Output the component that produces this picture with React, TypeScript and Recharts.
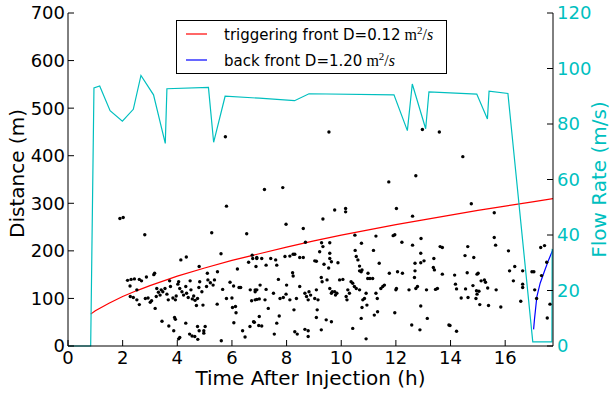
import { ComposedChart, Scatter, Line, XAxis, YAxis, Legend, Label } from 'recharts';

const FONT = '"DejaVu Sans", sans-serif';
const MATH = '"Liberation Serif", serif';
const CYAN = '#00bfbf';

// axis ticks
const timeTicks = [0, 2, 4, 6, 8, 10, 12, 14, 16];
const distTicks = [0, 100, 200, 300, 400, 500, 600, 700];
const flowTicks = [0, 20, 40, 60, 80, 100, 120];

// microseismic events: time (h) / distance (m)
const eventTime = [
  1.90, 2.02, 2.81, 5.80, 5.26, 6.54, 5.60, 4.33, 4.13, 4.80, 6.74, 6.91, 6.61, 6.20, 5.10, 5.47,
  2.18, 2.31, 2.43, 2.61, 2.69, 2.87, 3.14, 3.17, 2.27, 2.52, 2.28, 2.39, 2.52, 2.61, 2.83, 2.93,
  3.01, 3.06, 3.23, 3.25, 3.31, 3.37, 3.41, 3.47, 3.55, 3.62, 3.67, 3.19, 3.72, 3.75, 3.84, 3.93,
  3.96, 4.02, 4.05, 4.09, 4.17, 4.23, 4.31, 4.34, 4.40, 4.47, 4.50, 4.55, 4.60, 4.65, 4.70, 4.74,
  4.79, 4.82, 4.90, 4.94, 5.07, 5.12, 5.21, 5.31, 5.36, 5.46, 5.66, 5.80, 5.93, 6.00, 6.06, 6.02,
  6.13, 6.15, 6.26, 6.32, 6.07, 3.44, 3.69, 3.87, 3.90, 3.93, 4.09, 4.05, 4.31, 4.45, 4.54, 4.64,
  4.74, 4.80, 4.75, 5.02, 4.97, 4.97, 5.61, 6.39, 6.48, 6.66, 6.82, 6.98, 6.91, 6.85, 7.00, 6.72,
  7.00,
  7.98, 8.61, 9.33, 9.76, 10.16, 10.16, 12.02, 12.61, 8.69, 9.28, 9.58, 10.50, 11.27, 11.90, 11.96, 12.22,
  12.61, 12.92, 13.62, 10.74, 11.18, 10.51, 12.91, 13.39, 9.21, 9.33,
  6.76, 6.91, 7.09, 7.42, 7.60, 7.64, 7.94, 8.12, 8.24, 8.30, 8.48, 8.61, 9.03, 9.09, 9.58, 9.58,
  9.64, 9.37, 9.54, 7.25, 6.88, 9.88, 10.55, 10.61, 10.67, 10.76, 10.73, 11.39, 10.97, 10.98, 10.67, 11.76,
  12.06, 12.24, 12.70, 12.70, 12.91, 13.03, 13.37, 13.41,
  6.67, 6.85, 7.03, 7.25, 6.85, 6.91, 7.21, 7.52, 7.70, 7.88, 7.76, 8.00, 8.12, 7.98, 8.36, 8.24,
  8.22, 8.48, 8.67, 8.73, 8.79, 8.82, 8.88, 9.03, 9.09, 9.15, 9.12, 9.27, 9.30, 9.48, 9.58, 9.64,
  9.67, 9.76, 9.79, 9.84, 9.94, 10.06, 10.18, 10.21, 10.24, 10.30, 10.36, 10.42, 10.48, 10.55, 10.67, 10.79,
  10.85, 10.91, 11.05, 11.15, 11.27, 11.32, 11.45, 11.52, 11.58, 12.00, 12.02, 12.48, 12.73, 12.79, 12.68, 13.12,
  13.45, 13.52, 10.76, 10.94, 10.73, 11.21, 11.33, 11.96, 12.91, 13.15, 12.58, 12.88, 10.42, 10.91, 9.27, 9.64,
  9.45, 9.09, 8.67, 8.79, 8.79, 8.30, 8.39, 7.64, 7.73, 7.55, 7.33, 7.09, 6.79, 8.27, 13.94,
  13.70, 14.76, 15.60, 15.60, 15.65, 14.63, 14.53, 14.85, 16.12, 17.30, 17.44, 17.52, 14.15, 14.18, 14.22, 14.61,
  14.97, 15.01, 15.12, 15.24, 15.28, 15.36, 16.16, 16.35, 16.64, 16.30, 16.64, 16.64, 16.98, 17.05, 17.33, 17.08,
  17.15, 14.55, 14.82, 14.95, 14.97, 15.04, 15.07, 15.39, 15.67, 15.84, 14.39, 14.64, 14.93, 16.57, 17.64, 17.54,
  13.98, 14.22, 13.70,
  5.76, 9.55, 12.97, 13.59, 14.45, 7.19, 7.86, 11.74, 12.73,
];
const eventDist = [
  268, 270, 234, 294, 238, 236, 194, 187, 181, 167, 191, 184, 176, 162, 153, 156,
  138, 140, 141, 140, 137, 145, 150, 153, 126, 118, 104, 102, 97, 87, 100, 101,
  92, 95, 104, 121, 113, 107, 118, 114, 121, 109, 97, 79, 137, 125, 101, 97,
  105, 130, 135, 121, 114, 107, 125, 111, 102, 137, 118, 99, 105, 96, 85, 100,
  123, 135, 114, 86, 125, 139, 133, 128, 139, 88, 119, 100, 134, 101, 126, 81,
  83, 70, 123, 123, 49, 52, 42, 32, 60, 56, 18, 15, 48, 25, 21, 20,
  41, 32, 14, 41, 32, 27, 11, 32, 19, 41, 50, 43, 118, 114, 99, 95,
  62,
  256, 247, 267, 286, 289, 282, 289, 273, 218, 217, 217, 233, 231, 232, 234, 218,
  212, 226, 209, 216, 201, 201, 195, 184, 198, 209,
  184, 186, 184, 184, 181, 170, 188, 189, 193, 193, 186, 186, 179, 178, 195, 184,
  177, 172, 164, 170, 167, 175, 188, 181, 168, 160, 156, 174, 142, 153, 158, 153,
  156, 153, 158, 174, 175, 179, 165, 160,
  118, 118, 128, 119, 97, 98, 97, 111, 140, 102, 100, 128, 97, 109, 100, 147,
  154, 125, 111, 104, 97, 114, 107, 100, 118, 97, 76, 144, 135, 139, 121, 111,
  114, 114, 107, 111, 139, 140, 104, 97, 118, 111, 135, 132, 125, 121, 118, 97,
  100, 111, 142, 142, 111, 100, 121, 125, 128, 118, 121, 118, 121, 125, 144, 118,
  119, 121, 81, 86, 58, 65, 72, 70, 84, 58, 44, 34, 37, 15, 34, 51,
  55, 60, 35, 32, 20, 30, 25, 48, 63, 25, 79, 42, 51, 76, 44,
  207, 299, 280, 228, 212, 209, 190, 186, 200, 207, 211, 176, 149, 130, 120, 154,
  151, 153, 137, 139, 134, 122, 158, 167, 158, 137, 130, 123, 156, 156, 148, 118,
  100, 120, 127, 116, 109, 115, 87, 85, 118, 82, 101, 102, 100, 94, 88, 59,
  43, 31, 151,
  440, 450, 455, 450, 398, 329, 333, 345, 358,
];

// triggering front (D = 0.12 m^2/s)
const triggerTime = [0.83, 1, 1.5, 2, 2.5, 3, 4, 5, 6, 7, 8, 9, 10, 11, 12, 13, 14, 15, 16, 17, 17.75];
const triggerDist = [67, 74, 90, 104, 116, 127, 147, 164, 180, 194, 208, 221, 233, 244, 255, 265, 275, 285, 294, 303, 310];

// back front (D = 1.20 m^2/s)
const backTime = [17.04, 17.07, 17.16, 17.28, 17.43, 17.59, 17.75];
const backDist = [35, 55, 104, 132, 156, 181, 203];

// injection flow rate
const flowTime = [
  0, 0.83, 0.95, 1.16, 1.54, 1.99, 2.39, 2.67, 3.13, 3.56, 3.62, 5.14, 5.33, 5.75, 7.0,
  8.29, 8.82, 11.93, 12.42, 12.6, 13.09, 13.21, 14.96, 15.35, 15.41, 16.1, 17.01, 17.71, 17.72,
];
const flowRate = [
  0, 0, 93.0, 93.7, 84.8, 81.0, 85.3, 97.5, 90.5, 73.0, 92.7, 93.2, 73.4, 90.0, 89.3,
  88.4, 90.9, 90.5, 77.6, 94.4, 78.3, 91.6, 90.8, 81.8, 91.8, 91.0, 1.5, 1.5, 35,
];

const toPoints = (xs: number[], ys: number[]) => xs.map((x, i) => ({ x, y: ys[i] }));

const events = toPoints(eventTime, eventDist);
const trigger = toPoints(triggerTime, triggerDist);
const back = toPoints(backTime, backDist);
const flow = toPoints(flowTime, flowRate);

const EventDot = (p: any) => <circle cx={p.cx} cy={p.cy} r={1.7} fill="#000" />;

const MathUnit = () => (
  <>
    <tspan fontFamily={MATH} fontSize={16}> m</tspan>
    <tspan fontFamily={MATH} fontSize={11} dy={-6}>2</tspan>
    <tspan fontFamily={MATH} fontSize={16} dy={6}>/</tspan>
    <tspan fontFamily={MATH} fontSize={16} fontStyle="italic">s</tspan>
  </>
);

const LegendBox = () => (
  <svg width={272} height={55} style={{ display: 'block' }}>
    <rect x={0.5} y={0.5} width={270} height={53} fill="#fff" stroke="#000" />
    <line x1={10} x2={31} y1={14} y2={14} stroke="#ff0000" strokeWidth={1.2} />
    <line x1={10} x2={31} y1={40} y2={40} stroke="#0000ff" strokeWidth={1.2} />
    <text x={48} y={19.5} fontSize={15} fontFamily={FONT} fill="#000">
      triggering front D=0.12<MathUnit />
    </text>
    <text x={48} y={45.5} fontSize={15} fontFamily={FONT} fill="#000">
      back front D=1.20<MathUnit />
    </text>
  </svg>
);

const DistLabel = (p: any) => {
  const { x, y, height } = p.viewBox;
  const cx = x - 1;
  const cy = y + height / 2 - 6;
  return (
    <text x={cx} y={cy} transform={`rotate(-90 ${cx} ${cy})`} textAnchor="middle" dominantBaseline="central"
      fontSize={20} fontFamily={FONT} fill="#000">Distance (m)</text>
  );
};

const FlowLabel = (p: any) => {
  const { x, y, height } = p.viewBox;
  const cx = x + 46;
  const cy = y + height / 2;
  return (
    <text x={cx} y={cy} transform={`rotate(-90 ${cx} ${cy})`} textAnchor="middle" dominantBaseline="central"
      fontSize={20} fontFamily={FONT} fill={CYAN}>Flow Rate (m/s)</text>
  );
};

const TimeLabel = (p: any) => {
  const { x, y, width } = p.viewBox;
  return (
    <text x={x + width / 2} y={y + 39} textAnchor="middle" fontSize={20} fontFamily={FONT} fill="#000">
      Time After Injection (h)
    </text>
  );
};

export default function App() {
  return (
    <div style={{ position: 'absolute', left: 0, top: 0, background: '#fff' }}>
      <ComposedChart width={611} height={397} margin={{ top: 13, right: 18, bottom: 1, left: 18 }}>
        <XAxis xAxisId="bottom" dataKey="x" type="number" domain={[0, 17.75]} ticks={timeTicks}
          allowDataOverflow height={50} tickSize={-6} tickMargin={11}
          axisLine={{ stroke: '#000' }} tickLine={{ stroke: '#000' }}
          tick={{ fontSize: 18, fill: '#000', fontFamily: FONT }}>
          <Label content={<TimeLabel />} />
        </XAxis>
        <XAxis xAxisId="top" orientation="top" dataKey="x" type="number" domain={[0, 17.75]} ticks={timeTicks}
          allowDataOverflow height={0} tickSize={-6} tickFormatter={() => ''}
          axisLine={{ stroke: '#000' }} tickLine={{ stroke: '#000' }} />
        <YAxis yAxisId="left" type="number" domain={[0, 700]} ticks={distTicks} width={50}
          tickSize={-6} tickMargin={9} axisLine={{ stroke: '#000' }} tickLine={{ stroke: '#000' }}
          tick={{ fontSize: 18, fill: '#000', fontFamily: FONT }}>
          <Label content={<DistLabel />} />
        </YAxis>
        <YAxis yAxisId="right" orientation="right" type="number" domain={[0, 120]} ticks={flowTicks} width={40}
          tickSize={-6} tickMargin={10} axisLine={{ stroke: '#000' }} tickLine={{ stroke: '#000' }}
          tick={{ fontSize: 18, fill: CYAN, fontFamily: FONT }}>
          <Label content={<FlowLabel />} />
        </YAxis>
        <Legend layout="vertical" align="center" verticalAlign="middle" content={<LegendBox />}
          wrapperStyle={{ left: 176, top: 20, width: 272, height: 55 }} />
        <Scatter data={events} dataKey="y" xAxisId="bottom" yAxisId="left" shape={<EventDot />}
          isAnimationActive={false} legendType="none" />
        <Line data={trigger} dataKey="y" xAxisId="bottom" yAxisId="left" type="linear" stroke="#ff0000"
          strokeWidth={1.2} dot={false} isAnimationActive={false} />
        <Line data={back} dataKey="y" xAxisId="bottom" yAxisId="left" type="linear" stroke="#0000ff"
          strokeWidth={1.2} dot={false} isAnimationActive={false} />
        <Line data={flow} dataKey="y" xAxisId="bottom" yAxisId="right" type="linear" stroke={CYAN}
          strokeWidth={1.2} dot={false} isAnimationActive={false} />
      </ComposedChart>
    </div>
  );
}
